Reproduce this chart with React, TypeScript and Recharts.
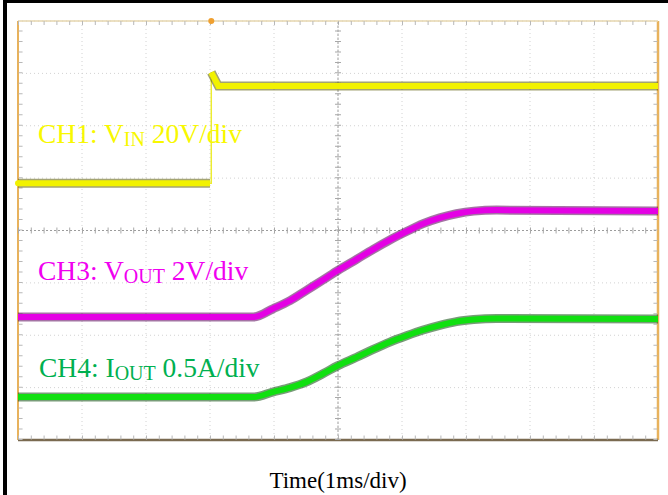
import React from "react";
import {
  LineChart,
  Line,
  XAxis,
  YAxis,
  CartesianGrid,
  ReferenceLine,
  ReferenceDot,
} from "recharts";

// time in ms (1 ms/div), levels in screen divisions counted from the bottom of the graticule
const ch1Time = [0, 3.0, 3.02, 3.02, 3.13, 10];
const ch1Level = [4.9, 4.9, 4.9, 7.02, 6.76, 6.76];

const rampTime = [0, 3.68, 3.99, 4.25, 4.51, 4.77, 5.0, 5.29, 5.55, 5.81, 6.07, 6.33, 6.59, 6.85, 7.12, 7.48, 10];
const ch3Level = [2.35, 2.35, 2.51, 2.66, 2.86, 3.06, 3.24, 3.45, 3.64, 3.82, 3.98, 4.13, 4.24, 4.32, 4.37, 4.39, 4.37];
const ch4Level = [0.82, 0.82, 0.92, 1.0, 1.11, 1.27, 1.42, 1.58, 1.73, 1.87, 1.99, 2.1, 2.19, 2.26, 2.3, 2.32, 2.31];

const divX = [0, 1, 2, 3, 4, 5, 6, 7, 8, 9, 10];
const divY = [0, 1, 2, 3, 4, 5, 6, 7, 8];

const WIDTH = 668;
const HEIGHT = 495;
const SERIF = '"Liberation Serif", "Times New Roman", serif';

type Pt = { t: number; v: number };

const zip = (ts: number[], vs: number[]): Pt[] => ts.map((t, i) => ({ t, v: vs[i] }));

const ch1 = zip(ch1Time, ch1Level);
const ch1Low = ch1.slice(0, 2);
const ch1High = ch1.slice(3);
const ch3 = zip(rampTime, ch3Level);
const ch4 = zip(rampTime, ch4Level);

// thick scope trace: dark noisy edge underneath, bright colour on top
function trace(id: string, data: Pt[], color: string, edge: string, curve: "monotone" | "linear") {
  return [
    <Line
      key={`${id}-edge`}
      data={data}
      dataKey="v"
      type={curve}
      stroke={edge}
      strokeOpacity={0.55}
      strokeWidth={9}
      dot={false}
      activeDot={false}
      isAnimationActive={false}
    />,
    <Line
      key={`${id}-main`}
      data={data}
      dataKey="v"
      type={curve}
      stroke={color}
      strokeWidth={6}
      dot={false}
      activeDot={false}
      isAnimationActive={false}
    />,
  ];
}

// minor graticule ticks (5 per division) drawn as a dashed wide stroke
const TICK_X = "1 11.8";
const TICK_Y = "1 9.475";

export default function App() {
  return (
    <div
      style={{
        position: "absolute",
        left: 0,
        top: 0,
        width: WIDTH,
        height: HEIGHT,
        background: "#fff",
        overflow: "hidden",
      }}
    >
      <LineChart
        width={WIDTH}
        height={HEIGHT}
        margin={{ top: 21, right: 10, bottom: 55, left: 18 }}
      >
        <XAxis dataKey="t" type="number" domain={[0, 10]} ticks={divX} hide />
        <YAxis type="number" domain={[0, 8]} ticks={divY} hide />
        <CartesianGrid stroke="#d2d2d2" strokeDasharray="1 3" />

        {/* frame */}
        <ReferenceLine x={0} stroke="#e8b25c" strokeWidth={2} />
        <ReferenceLine x={10} stroke="#e8b25c" strokeWidth={2.5} />
        <ReferenceLine y={8} stroke="#e6d6ae" strokeWidth={1.5} />
        <ReferenceLine y={0} stroke="#7a6a50" strokeWidth={2.5} />
        <ReferenceLine x={0.04} stroke="#b8b8b8" strokeWidth={4} strokeDasharray={TICK_Y} />
        <ReferenceLine x={9.96} stroke="#b8b8b8" strokeWidth={4} strokeDasharray={TICK_Y} />
        <ReferenceLine y={7.96} stroke="#b8b8b8" strokeWidth={4} strokeDasharray={TICK_X} />
        <ReferenceLine y={0.05} stroke="#b8b8b8" strokeWidth={4} strokeDasharray={TICK_X} />

        {/* centre cross */}
        <ReferenceLine x={5} stroke="#9c9c9c" strokeDasharray="2 2" />
        <ReferenceLine x={5} stroke="#a8a8a8" strokeWidth={6} strokeDasharray={TICK_Y} />
        <ReferenceLine y={4} stroke="#9c9c9c" strokeDasharray="2 2" />
        <ReferenceLine y={4} stroke="#a8a8a8" strokeWidth={6} strokeDasharray={TICK_X} />

        <Line
          data={ch1}
          dataKey="v"
          type="linear"
          stroke="#ecec30"
          strokeWidth={1.5}
          dot={false}
          activeDot={false}
          isAnimationActive={false}
        />
        {trace("ch1-low", ch1Low, "#f2f200", "#5a5a00", "linear")}
        {trace("ch1-high", ch1High, "#f2f200", "#5a5a00", "linear")}
        {trace("ch3", ch3, "#e400e4", "#5a005a", "monotone")}
        {trace("ch4", ch4, "#10e010", "#0a4a0a", "monotone")}

        <ReferenceDot x={3.02} y={8} r={3} fill="#f0a030" stroke="none" ifOverflow="visible" />
        <ReferenceDot x={0} y={ch1Level[0]} r={3} fill="#f2f200" stroke="none" ifOverflow="visible" />
      </LineChart>

      <svg
        width={WIDTH}
        height={HEIGHT}
        style={{ position: "absolute", left: 0, top: 0, pointerEvents: "none" }}
        fontFamily={SERIF}
      >
        <text x={38} y={143} fontSize={27.5} fill="#f8f800">
          CH1: V
          <tspan fontSize={20} dy={3}>IN</tspan>
          <tspan dy={-3}>{" 20V/div"}</tspan>
        </text>
        <text x={38} y={280} fontSize={27.5} fill="#f000f0">
          CH3: V
          <tspan fontSize={20} dy={3}>OUT</tspan>
          <tspan dy={-3}>{" 2V/div"}</tspan>
        </text>
        <text x={39} y={377} fontSize={27.5} fill="#00b050">
          CH4: I
          <tspan fontSize={20} dy={3}>OUT</tspan>
          <tspan dy={-3}>{" 0.5A/div"}</tspan>
        </text>
        <text x={338} y={488} fontSize={23} fill="#000" textAnchor="middle">
          Time(1ms/div)
        </text>
      </svg>

      <div style={{ position: "absolute", left: 3, top: 0, width: 4, height: HEIGHT, background: "#000" }} />
      <div style={{ position: "absolute", left: 3, top: 0, width: WIDTH - 3, height: 3, background: "#000" }} />
    </div>
  );
}
